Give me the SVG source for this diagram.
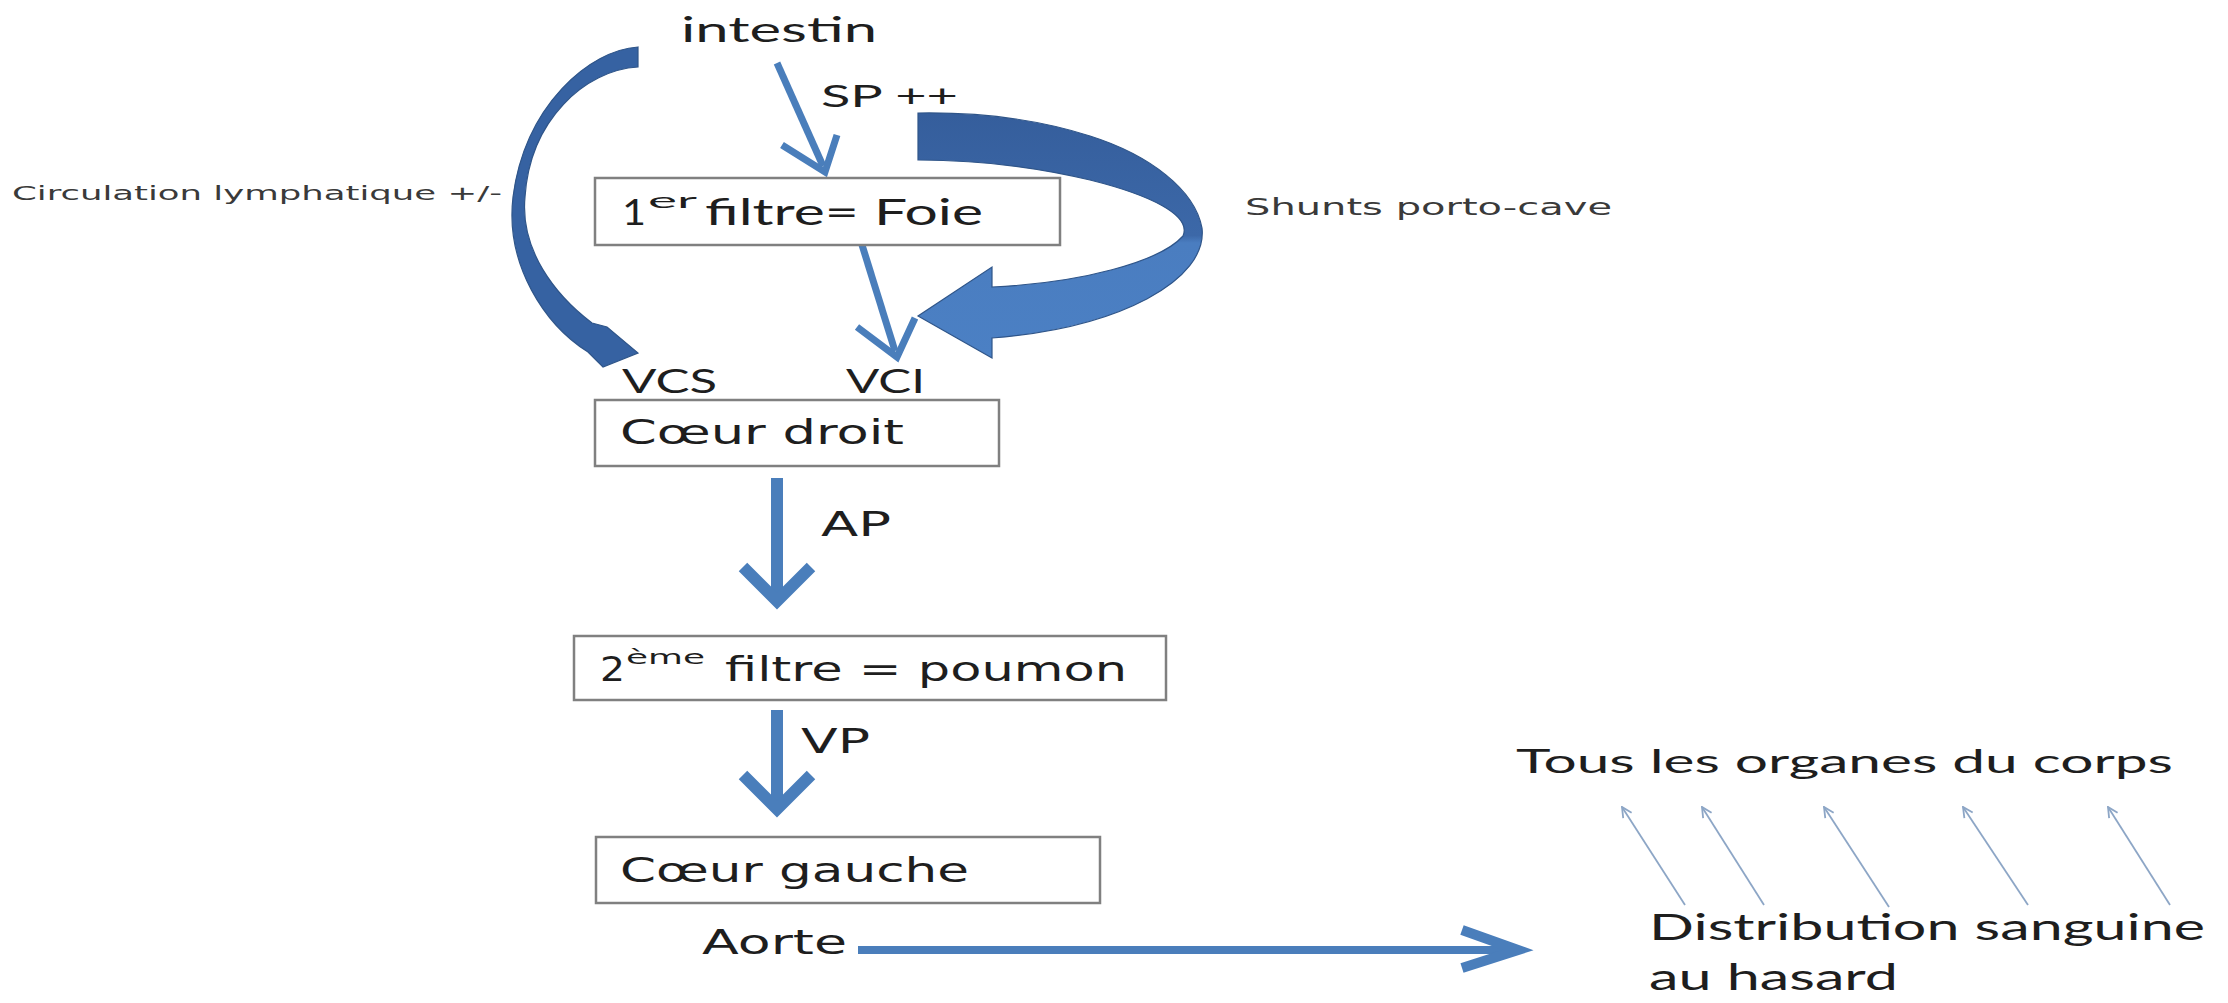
<svg xmlns="http://www.w3.org/2000/svg" width="2228" height="1003" viewBox="0 0 2228 1003">
<style>
.cal{font-family:Lato,"Liberation Sans",sans-serif;fill:#1e1e1e}
.ver{font-family:"DejaVu Sans","Liberation Sans",sans-serif;fill:#1e1e1e}
.sm{font-family:"DejaVu Sans","Liberation Sans",sans-serif;fill:#3a3a3a}
.box{fill:#fff;stroke:#808080;stroke-width:2.5}
.ln{fill:none;stroke:#4A7EBB;stroke-linecap:butt;stroke-linejoin:miter}
.thin{fill:none;stroke:#8DA6C6;stroke-width:1.8;marker-end:url(#oh)}
</style>
<defs>
<marker id="oh" viewBox="0 0 12 12" refX="11" refY="6" markerWidth="12" markerHeight="12" markerUnits="userSpaceOnUse" orient="auto">
<path d="M1,1 L11,6 L1,11" fill="none" stroke="#8DA6C6" stroke-width="1.8"/>
</marker>
<linearGradient id="shg" gradientUnits="userSpaceOnUse" x1="0" y1="113" x2="0" y2="358">
<stop offset="0" stop-color="#355E9C"/>
<stop offset="0.5" stop-color="#3C68A8"/>
<stop offset="0.53" stop-color="#4A7DC0"/>
<stop offset="1" stop-color="#4B80C4"/>
</linearGradient>
</defs>
<rect width="2228" height="1003" fill="#fff"/>

<g id="connectors">
<path id="lymph" d="M638,47 C590,50 525,105 513,197 C505,265 545,325 588,352 L603,367 L638,353 L607,327 L592,323 C555,295 520,250 525,197 C530,120 585,70 638,67 Z" fill="#3662A2" stroke="#2F5589" stroke-width="1.2"/>
<path id="shunt" d="M918,113 C980,112 1040,120 1090,136 C1150,155 1195,190 1202,228 C1208,280 1120,328 992,338 L992,358 L918,316 L992,267 L992,287 C1080,283 1160,262 1183,236 C1192,215 1150,195 1090,180 C1040,168 980,160 918,160 Z" fill="url(#shg)" stroke="#2F5589" stroke-width="1.2"/>
<g id="sp-arrow">
<path class="ln" stroke-width="7" d="M777,63 L823,166"/>
<path class="ln" stroke-width="7" d="M782,145 L825,172 L837,135"/>
</g>
<g id="foie-arrow">
<path class="ln" stroke-width="7" d="M858,232 L895,351"/>
<path class="ln" stroke-width="7" d="M857,327 L897,357 L915,318"/>
</g>
<g id="ap-arrow">
<path class="ln" stroke-width="12" d="M777,478 L777,596"/>
<path class="ln" stroke-width="12" d="M743,567 L777,601 L811,567"/>
</g>
<g id="vp-arrow">
<path class="ln" stroke-width="12" d="M777,710 L777,803"/>
<path class="ln" stroke-width="12" d="M743,775 L777,809 L811,775"/>
</g>
<g id="aorte-arrow">
<path class="ln" stroke-width="8" d="M858,950 L1512,950"/>
<path class="ln" stroke-width="10" d="M1462,930 L1518,950 L1462,968"/>
</g>
<g id="distribution-arrows">
<path class="thin" d="M1685,905 L1622,807"/>
<path class="thin" d="M1764,905 L1702,807"/>
<path class="thin" d="M1889,907 L1824,807"/>
<path class="thin" d="M2028,905 L1963,807"/>
<path class="thin" d="M2170,905 L2108,807"/>
</g>
</g>

<g id="intestin"><text class="cal" x="681" y="42" font-size="34" textLength="196" lengthAdjust="spacingAndGlyphs">intestin</text></g>
<g id="sp-label"><text class="cal" x="821" y="107" font-size="31" textLength="137" lengthAdjust="spacingAndGlyphs">SP ++</text></g>
<g id="lymph-label"><text class="sm" x="12" y="200" font-size="19" textLength="490" lengthAdjust="spacingAndGlyphs">Circulation lymphatique  +/-</text></g>
<g id="shunt-label"><text class="sm" x="1245" y="215" font-size="23" textLength="367" lengthAdjust="spacingAndGlyphs">Shunts porto-cave</text></g>

<g id="foie">
<rect class="box" x="595" y="178" width="465" height="67"/>
<text class="cal" x="622" y="225" font-size="37" textLength="24" lengthAdjust="spacingAndGlyphs">1</text>
<text class="cal" x="648" y="208" font-size="22" textLength="49" lengthAdjust="spacingAndGlyphs">er</text>
<text class="cal" x="705" y="225" font-size="37" textLength="278" lengthAdjust="spacingAndGlyphs">filtre= Foie</text>
</g>

<g id="vcs"><text class="cal" x="622" y="393" font-size="32" textLength="95" lengthAdjust="spacingAndGlyphs">VCS</text></g>
<g id="vci"><text class="cal" x="846" y="393" font-size="32" textLength="79" lengthAdjust="spacingAndGlyphs">VCI</text></g>

<g id="coeur-droit">
<rect class="box" x="595" y="400" width="404" height="66"/>
<text class="ver" x="620" y="444" font-size="34" textLength="284" lengthAdjust="spacingAndGlyphs">Cœur droit</text>
</g>
<g id="ap-label"><text class="ver" x="821" y="536" font-size="34" textLength="70" lengthAdjust="spacingAndGlyphs">AP</text></g>

<g id="poumon">
<rect class="box" x="574" y="636" width="592" height="64"/>
<text class="ver" x="600" y="681" font-size="34" textLength="25" lengthAdjust="spacingAndGlyphs">2</text>
<text class="ver" x="626" y="664" font-size="19" textLength="79" lengthAdjust="spacingAndGlyphs">ème</text>
<text class="ver" x="725" y="681" font-size="34" textLength="402" lengthAdjust="spacingAndGlyphs">filtre = poumon</text>
</g>
<g id="vp-label"><text class="ver" x="801" y="753" font-size="34" textLength="69" lengthAdjust="spacingAndGlyphs">VP</text></g>

<g id="coeur-gauche">
<rect class="box" x="596" y="837" width="504" height="66"/>
<text class="ver" x="620" y="882" font-size="34" textLength="349" lengthAdjust="spacingAndGlyphs">Cœur gauche</text>
</g>
<g id="aorte-label"><text class="ver" x="702" y="954" font-size="34" textLength="145" lengthAdjust="spacingAndGlyphs">Aorte</text></g>

<g id="organes"><text class="cal" x="1516" y="773" font-size="32" textLength="657" lengthAdjust="spacingAndGlyphs">Tous les organes du  corps</text></g>
<g id="distribution">
<text class="cal" x="1649" y="940" font-size="37" textLength="556" lengthAdjust="spacingAndGlyphs">Distribution sanguine</text>
<text class="cal" x="1649" y="990" font-size="37" textLength="249" lengthAdjust="spacingAndGlyphs">au hasard</text>
</g>
</svg>
